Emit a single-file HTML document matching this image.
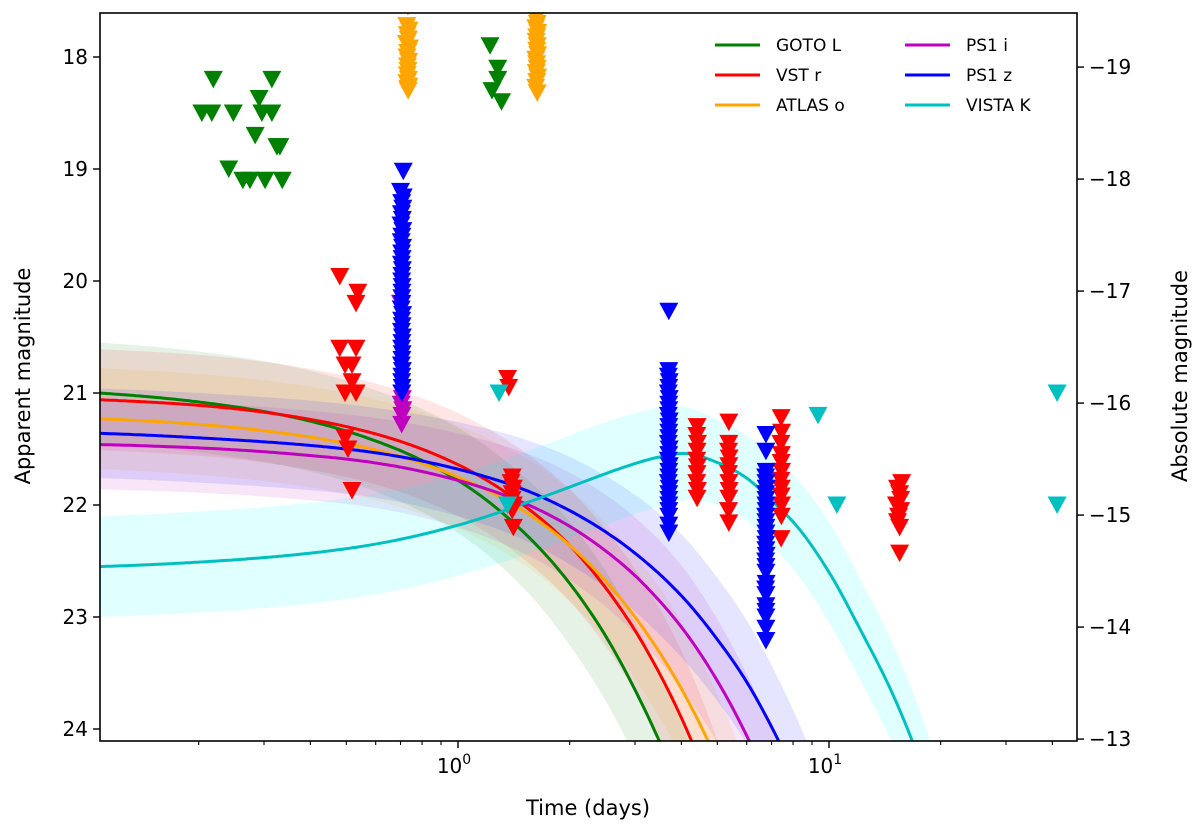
<!DOCTYPE html>
<html><head><meta charset="utf-8">
<style>
html,body{margin:0;padding:0;background:#fff;width:1200px;height:832px;overflow:hidden;}
svg{display:block;font-family:"DejaVu Sans","Liberation Sans",sans-serif;}
</style></head>
<body>
<svg id="chart" width="1200" height="832" viewBox="0 0 1200 832" xmlns="http://www.w3.org/2000/svg">
<defs><clipPath id="plotclip"><rect x="100" y="13" width="977" height="728"/></clipPath></defs>
<g id="bands" clip-path="url(#plotclip)"></g>
<g id="lines" clip-path="url(#plotclip)"></g>
<g id="marks" clip-path="url(#plotclip)"></g>
<g id="axes"></g>
<g id="legend"></g>
</svg>
<script>
// ---- model curves (time in days, apparent mag) ----
const modelT = [0.108, 0.2, 0.375, 0.5, 1, 1.5, 2, 2.5, 3, 3.5, 4, 5, 6, 7, 8, 10, 12, 15, 17.5, 20];
const gotoModel  = [21.0, 21.08, 21.23, 21.34, 21.78, 22.24, 22.7, 23.17, 23.65, 24.12, 24.6, 25.58, 26.56, 27.5, 28.55, 30.6, 32.6, 35.7, 38.3, 40.9];
const vstModel   = [21.06, 21.11, 21.22, 21.3, 21.64, 22.0, 22.36, 22.74, 23.12, 23.51, 23.9, 24.7, 25.5, 26.3, 27.2, 28.9, 30.6, 33.3, 35.5, 37.7];
const atlasModel = [21.23, 21.28, 21.38, 21.45, 21.75, 22.05, 22.36, 22.68, 23.0, 23.32, 23.64, 24.29, 24.95, 25.62, 26.29, 27.65, 29.0, 31.1, 32.9, 34.6];
const ps1iModel  = [21.46, 21.49, 21.55, 21.59, 21.78, 21.98, 22.19, 22.41, 22.63, 22.86, 23.09, 23.57, 24.06, 24.55, 25.05, 26.1, 27.1, 28.8, 30.2, 31.6];
const ps1zModel  = [21.36, 21.4, 21.46, 21.5, 21.68, 21.86, 22.05, 22.24, 22.43, 22.62, 22.81, 23.2, 23.58, 23.98, 24.38, 25.17, 25.97, 27.2, 28.2, 29.2];
const vistaModel = [22.55, 22.51, 22.44, 22.39, 22.18, 21.99, 21.84, 21.72, 21.63, 21.57, 21.54, 21.62, 21.76, 21.96, 22.15, 22.6, 23.08, 23.72, 24.27, 24.85];
const gotoSig  = [0.45,0.45,0.45,0.45,0.47,0.5,0.55,0.58,0.6,0.63,0.65,0.7,0.7,0.7,0.7,0.7,0.7,0.7,0.7,0.7];
const vstSig   = [0.45,0.45,0.45,0.45,0.46,0.48,0.5,0.52,0.55,0.58,0.6,0.6,0.6,0.6,0.6,0.6,0.6,0.6,0.6,0.6];
const atlasSig = [0.45,0.45,0.45,0.45,0.46,0.48,0.5,0.52,0.55,0.58,0.6,0.6,0.6,0.6,0.6,0.6,0.6,0.6,0.6,0.6];
const ps1iSig  = [0.4,0.4,0.4,0.4,0.42,0.45,0.48,0.5,0.52,0.54,0.55,0.55,0.55,0.55,0.55,0.55,0.55,0.55,0.55,0.55];
const ps1zSig  = [0.4,0.4,0.4,0.4,0.42,0.45,0.48,0.5,0.52,0.54,0.55,0.55,0.55,0.55,0.55,0.55,0.55,0.55,0.55,0.55];
const vistaSig = [0.45,0.45,0.45,0.45,0.45,0.46,0.46,0.46,0.45,0.44,0.42,0.38,0.38,0.4,0.42,0.45,0.45,0.45,0.45,0.45];

// ---- upper limits ----
const gotoT = [0.219,0.315,0.204,0.217,0.248,0.296,0.315,0.291,0.284,0.331,0.325,0.241,0.263,0.275,0.302,0.336,1.22,1.28,1.28,1.235,1.31];
const gotoM = [18.2,18.2,18.5,18.5,18.5,18.5,18.5,18.37,18.7,18.8,18.8,19.0,19.1,19.1,19.1,19.1,17.9,18.1,18.2,18.3,18.4];
const atlasT = [0.733,0.728,0.738,0.73,0.735,0.726,0.74,0.732,0.729,0.736,0.731,0.733,0.73,0.735,0.728,0.737,0.732,0.734,1.63,1.62,1.64,1.625,1.635,1.62,1.64,1.63,1.625,1.635,1.63,1.64,1.62,1.63,1.635,1.625,1.64,1.63,1.62,1.635];
const atlasM = [17.55,17.72,17.76,17.8,17.84,17.88,17.92,17.96,18.0,18.04,18.08,18.12,18.16,18.2,18.23,18.26,18.28,18.3,17.5,17.55,17.6,17.65,17.7,17.74,17.78,17.82,17.86,17.9,17.94,17.98,18.02,18.06,18.1,18.14,18.18,18.22,18.27,18.32];
const vstT = [0.48,0.537,0.531,0.48,0.531,0.496,0.518,0.518,0.496,0.531,0.496,0.505,0.518,1.36,1.37,1.40,1.39,1.41,1.40,1.40,1.41,1.40,1.41,4.41,4.40,4.42,4.41,4.40,4.42,4.41,4.40,4.42,4.41,5.37,5.37,5.36,5.38,5.37,5.36,5.37,5.38,5.37,5.36,5.37,7.43,7.45,7.42,7.44,7.43,7.45,7.42,7.44,7.43,7.45,7.44,7.43,15.3,15.7,15.5,15.2,15.6,15.4,15.5,15.3,15.6,15.5];
const vstM = [19.96,20.1,20.2,20.6,20.6,20.75,20.75,20.9,21.0,21.0,21.4,21.5,21.87,20.87,20.95,21.75,21.8,21.85,21.9,21.95,22.0,22.05,22.2,21.3,21.38,21.45,21.52,21.6,21.66,21.72,21.8,21.87,21.94,21.26,21.45,21.52,21.58,21.65,21.72,21.8,21.87,21.94,22.05,22.16,21.22,21.35,21.45,21.55,21.62,21.7,21.78,21.85,21.92,22.0,22.1,22.3,21.85,21.8,21.9,22.0,21.95,22.1,22.2,22.15,22.05,22.43];
const ps1iT = [0.70,0.705,0.708,0.703,0.71,0.706,0.705];
const ps1iM = [20.2,21.0,21.05,21.1,21.15,21.2,21.28];
const ps1zT = [0.712,0.70,0.712,0.705,0.71,0.704,0.708,0.702,0.71,0.706,0.703,0.709,0.705,0.707,0.704,0.708,0.706,0.705,0.707,0.706,0.706,0.706,0.703,0.709,0.705,0.707,0.704,0.708,0.706,0.705,0.707,0.706,0.704,0.708,0.706,0.705,0.707,0.706,
  3.70,3.70,3.69,3.71,3.70,3.69,3.71,3.70,3.70,3.69,3.71,3.70,3.70,3.70,3.69,3.71,3.70,3.69,3.71,3.70,3.70,3.69,3.71,3.70,3.70,3.70,3.70,3.70,3.70,3.70,
  6.76,6.76,6.77,6.75,6.76,6.77,6.75,6.76,6.76,6.77,6.75,6.76,6.76,6.76,6.77,6.75,6.76,6.77,6.75,6.76,6.76,6.77,6.75,6.76,6.76,6.76,6.76,6.76,6.76];
const ps1zM = [19.02,19.2,19.25,19.3,19.35,19.4,19.45,19.5,19.55,19.6,19.65,19.7,19.75,19.8,19.85,19.9,19.95,20.0,20.05,20.1,20.15,20.2,20.25,20.3,20.35,20.4,20.45,20.5,20.55,20.6,20.65,20.7,20.75,20.8,20.85,20.9,20.95,21.0,
  20.27,20.8,20.85,20.9,20.95,21.0,21.05,21.1,21.15,21.2,21.25,21.3,21.35,21.4,21.45,21.5,21.55,21.6,21.65,21.7,21.75,21.8,21.85,21.9,21.95,22.0,22.05,22.1,22.18,22.25,
  21.37,21.52,21.7,21.75,21.8,21.85,21.9,21.95,22.0,22.05,22.1,22.15,22.2,22.25,22.3,22.35,22.4,22.45,22.5,22.55,22.6,22.7,22.75,22.8,22.9,22.95,23.0,23.1,23.21];
const vistaT = [1.29,1.36,9.34,10.5,41.2,41.2];
const vistaM = [21.0,22.0,21.2,22.0,21.0,22.0];

// ---- ticks ----
const yTicks = [18,19,20,21,22,23,24];
const absTicks = [-19,-18,-17,-16,-15,-14,-13];
const absOffset = 37.09;
const xMajor = [1,10];
const xMajorLabels = ["0","1"];
const xMinor = [0.2,0.3,0.4,0.5,0.6,0.7,0.8,0.9,2,3,4,5,6,7,8,9,20,30,40];

const L=100,R=1077,T=13,B=741;
const X = t => 458 + 371*Math.log10(t);
const Y = m => 57 + (m-18)*112;
const NS="http://www.w3.org/2000/svg";
function mk(tag, attrs, parent){const e=document.createElementNS(NS,tag);for(const k in attrs)e.setAttribute(k,attrs[k]);parent.appendChild(e);return e;}

// cubic Hermite interpolation in linear time with non-uniform slopes
function interp(ts, ms, t){
  const Lg=ts, n=Lg.length, lt=t;
  let i=0; while(i<n-2 && lt>Lg[i+1]) i++;
  const slope=k=>{ if(k===0) return (ms[1]-ms[0])/(Lg[1]-Lg[0]); if(k===n-1) return (ms[n-1]-ms[n-2])/(Lg[n-1]-Lg[n-2]);
    const a=(ms[k]-ms[k-1])/(Lg[k]-Lg[k-1]), b=(ms[k+1]-ms[k])/(Lg[k+1]-Lg[k]); const wa=Lg[k+1]-Lg[k], wb=Lg[k]-Lg[k-1]; return (a*wa+b*wb)/(wa+wb); };
  const h=Lg[i+1]-Lg[i], u=(lt-Lg[i])/h;
  const h00=2*u*u*u-3*u*u+1,h10=u*u*u-2*u*u+u,h01=-2*u*u*u+3*u*u,h11=u*u*u-u*u;
  return h00*ms[i]+h10*h*slope(i)+h01*ms[i+1]+h11*h*slope(i+1);
}
function samples(){const a=[];const l0=Math.log10(modelT[0]),l1=Math.log10(modelT[modelT.length-1]);for(let i=0;i<=300;i++)a.push(Math.pow(10,l0+(l1-l0)*i/300));return a;}
const S=samples();

const series=[
 {name:'goto-l',col:'#008000',m:gotoModel,s:gotoSig},
 {name:'vst-r',col:'#ff0000',m:vstModel,s:vstSig},
 {name:'atlas-o',col:'#ffa500',m:atlasModel,s:atlasSig},
 {name:'ps1-i',col:'#bf00bf',m:ps1iModel,s:ps1iSig},
 {name:'ps1-z',col:'#0000ff',m:ps1zModel,s:ps1zSig},
 {name:'vista-k',col:'#00bfbf',m:vistaModel,s:vistaSig}
];
const bands=document.getElementById('bands'), lines=document.getElementById('lines'), marks=document.getElementById('marks');
series.forEach(sr=>{
  let up=[],dn=[];
  S.forEach(t=>{const m=interp(modelT,sr.m,t),s=interp(modelT,sr.s,t);up.push(X(t).toFixed(1)+','+Y(m-s).toFixed(1));dn.push(X(t).toFixed(1)+','+Y(m+s).toFixed(1));});
  const bandFill = sr.name==='vista-k' ? '#00ffff' : sr.col;
  const b=mk('polygon',{points:up.concat(dn.reverse()).join(' '),fill:bandFill,'fill-opacity':sr.name==='vista-k'?0.12:0.1,stroke:'none'},bands);
  
  
  const pts=S.map(t=>X(t).toFixed(1)+','+Y(interp(modelT,sr.m,t)).toFixed(1)).join(' ');
  const l=mk('polyline',{points:pts,fill:'none',stroke:sr.col,'stroke-width':3},lines);
  
  
});

function tri(ts,ms,col,name){
  ts.forEach((t,i)=>{
    const x=X(t),y=Y(ms[i]);
    const p=mk('polygon',{points:`${x-9.5},${y-8.5} ${x+9.5},${y-8.5} ${x},${y+9}`,fill:col},marks);
    
    
  });
}
tri(gotoT,gotoM,'#008000','goto-l');
tri(atlasT,atlasM,'#ffa500','atlas-o');
tri(vstT,vstM,'#ff0000','vst-r');
tri(ps1iT,ps1iM,'#bf00bf','ps1-i');
tri(ps1zT,ps1zM,'#0000ff','ps1-z');
tri(vistaT,vistaM,'#00bfbf','vista-k');

// axes
const ax=document.getElementById('axes');
const fr=mk('rect',{x:L,y:T,width:R-L,height:B-T,fill:'none',stroke:'#000','stroke-width':1.6},ax);


yTicks.forEach(m=>{
  const y=Y(m);
  mk('line',{x1:L-7,x2:L,y1:y,y2:y,stroke:'#000','stroke-width':1.4},ax);
  const tx=mk('text',{x:L-12,y:y+7,'text-anchor':'end','font-size':20,fill:'#000'},ax);tx.textContent=m;
  
  
});
absTicks.forEach(a=>{
  const y=Y(a+absOffset);
  mk('line',{x1:R,x2:R+7,y1:y,y2:y,stroke:'#000','stroke-width':1.4},ax);
  const tx=mk('text',{x:R+12,y:y+7,'text-anchor':'start','font-size':20,fill:'#000'},ax);tx.textContent='\u2212'+Math.abs(a);
  
  
});
xMajor.forEach((t,i)=>{
  const x=X(t);
  mk('line',{x1:x,x2:x,y1:B,y2:B+7,stroke:'#000','stroke-width':1.4},ax);
  const tx=mk('text',{x:x-4,y:B+32,'text-anchor':'middle','font-size':20,fill:'#000'},ax);
  tx.textContent='10';
  const sp=mk('tspan',{dy:-9,'font-size':14},tx);sp.textContent=xMajorLabels[i];
  
  
});
xMinor.forEach(t=>{const x=X(t);if(x>L&&x<R)mk('line',{x1:x,x2:x,y1:B,y2:B+4,stroke:'#000','stroke-width':1.1},ax);});
let t1=mk('text',{x:588,y:815,'text-anchor':'middle','font-size':21,fill:'#000'},ax);t1.textContent='Time (days)';


let t2=mk('text',{x:0,y:0,'text-anchor':'middle','font-size':21,fill:'#000',transform:'translate(30,376) rotate(-90)'},ax);t2.textContent='Apparent magnitude';


let t3=mk('text',{x:0,y:0,'text-anchor':'middle','font-size':21,fill:'#000',transform:'translate(1187,376) rotate(-90)'},ax);t3.textContent='Absolute magnitude';



// legend
const lg=document.getElementById('legend');
const entries=[['GOTO L','#008000',715,45],['VST r','#ff0000',715,75],['ATLAS o','#ffa500',715,105],['PS1 i','#bf00bf',905,45],['PS1 z','#0000ff',905,75],['VISTA K','#00bfbf',905,105]];
entries.forEach(e=>{
  const g=mk('g',{},lg);
  
  
  mk('line',{x1:e[2],x2:e[2]+45,y1:e[3],y2:e[3],stroke:e[1],'stroke-width':3},g);
  const tx=mk('text',{x:e[2]+61,y:e[3]+6,'font-size':17,fill:'#000'},g);tx.textContent=e[0];
});
</script>
</body></html>
